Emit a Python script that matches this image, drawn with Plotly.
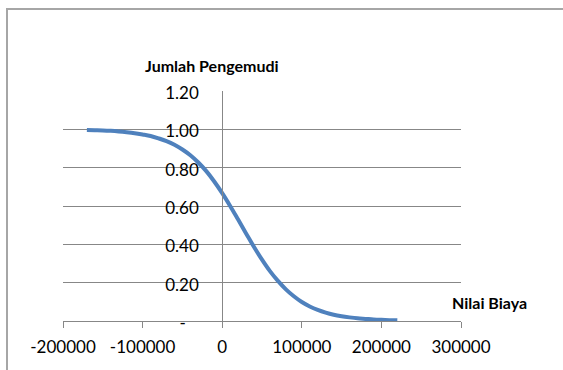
import plotly.graph_objects as go

# Driver share vs. cost value
biaya = [-170000, -160000, -150000, -140000, -130000, -120000, -110000, -100000,
         -90000, -80000, -70000, -60000, -50000, -40000, -30000, -20000, -10000,
         0, 10000, 20000, 30000, 40000, 50000, 60000, 70000, 80000, 90000,
         100000, 110000, 120000, 130000, 140000, 150000, 160000, 170000,
         180000, 190000, 200000, 210000, 220000]
pengemudi = [0.996, 0.995, 0.994, 0.992, 0.989, 0.985, 0.980, 0.973,
             0.965, 0.953, 0.939, 0.920, 0.895, 0.865, 0.827, 0.782, 0.728,
             0.667, 0.600, 0.529, 0.457, 0.386, 0.320, 0.260, 0.209, 0.165, 0.129,
             0.099, 0.076, 0.058, 0.044, 0.033, 0.025, 0.019, 0.014,
             0.011, 0.008, 0.006, 0.0045, 0.0034]

x_ticks = [-200000, -100000, 0, 100000, 200000, 300000]
x_ticktext = ["-200000", "-100000", "0", "100000", "200000", "300000"]
y_ticks = [0, 0.2, 0.4, 0.6, 0.8, 1.0, 1.2]
y_ticktext = ["-\u00a0\u00a0\u00a0", "0.20", "0.40", "0.60", "0.80", "1.00", "1.20"]

GRID = "#878787"
FONT = "Lato"

fig = go.Figure()
fig.add_trace(go.Scatter(
    x=biaya, y=pengemudi, mode="lines",
    line=dict(color="#4F81BD", width=4, shape="spline"),
    showlegend=False, hoverinfo="x+y",
))

fig.update_layout(
    width=563, height=370,
    margin=dict(l=63, r=102, t=91, b=49),
    paper_bgcolor="white", plot_bgcolor="white",
    font=dict(family=FONT, size=17, color="#000000"),
    xaxis=dict(
        range=[-200000, 300000], tickvals=x_ticks, ticktext=x_ticktext,
        showgrid=False, zeroline=False,
        showline=True, linecolor=GRID, linewidth=1,
        ticks="outside", ticklen=6, tickcolor=GRID, tickwidth=1,
        ticklabelstandoff=5,
        tickfont=dict(family=FONT, size=17, color="#000000"),
    ),
    yaxis=dict(
        range=[0, 1.2], tickvals=y_ticks, ticktext=y_ticktext,
        anchor="free", position=0.4,
        showgrid=True, gridcolor=GRID, gridwidth=1,
        zeroline=False, showline=True, linecolor=GRID, linewidth=1,
        ticks="", ticklabelstandoff=20, ticklabelshift=2,
        tickfont=dict(family=FONT, size=17, color="#000000"),
    ),
    shapes=[dict(
        type="rect", xref="paper", yref="paper",
        x0=-0.1407, x1=1.30, y0=-0.25, y1=1.3565,
        line=dict(color="#A6A6A6", width=2), fillcolor="rgba(0,0,0,0)",
        layer="below",
    )],
    annotations=[
        dict(text="<b>Jumlah Pengemudi</b>", xref="paper", yref="paper",
             x=0.3756, y=1.1087, xanchor="center", yanchor="middle",
             showarrow=False, font=dict(family=FONT, size=16, color="#000000")),
        dict(text="<b>Nilai Biaya</b>", xref="paper", yref="paper",
             x=1.0704, y=0.0826, xanchor="center", yanchor="middle",
             showarrow=False, font=dict(family=FONT, size=16, color="#000000")),
    ],
)

fig.write_html("out.html")
